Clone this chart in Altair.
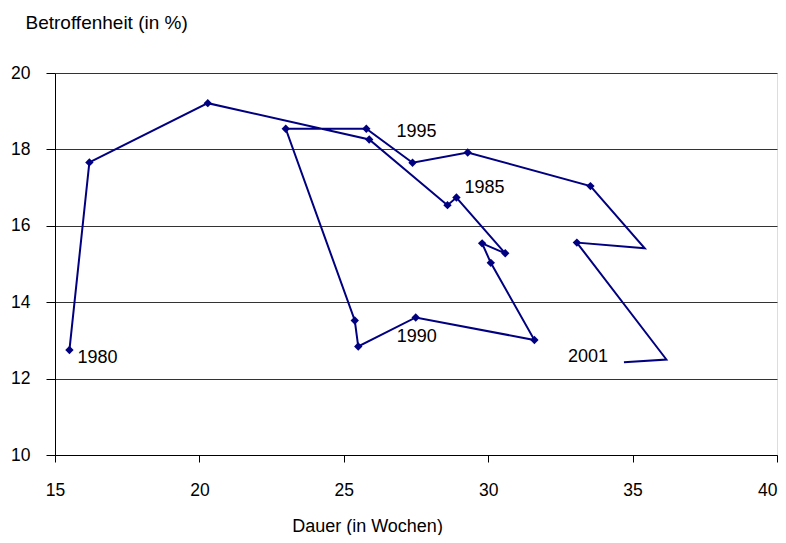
import altair as alt
import pandas as pd

jahre = list(range(1980, 2002))
dauer = [15.50, 16.19, 20.29, 25.88, 28.59, 28.90, 30.59, 29.79, 30.09, 31.60,
         27.49, 25.50, 25.38, 22.99, 25.78, 27.38, 29.29, 33.54, 35.42, 33.07,
         36.17, 34.70]
betroffenheit = [12.75, 17.66, 19.21, 18.26, 16.54, 16.74, 15.28, 15.54, 15.03, 13.01,
                 13.60, 12.84, 13.52, 18.54, 18.54, 17.65, 17.92, 17.04, 15.41, 15.56,
                 12.50, 12.43]
ohne_marker = [1998, 2000, 2001]
beschriftet = [1980, 1985, 1990, 1995, 2001]

df = pd.DataFrame({"Jahr": jahre, "Dauer": dauer, "Betroffenheit": betroffenheit})
df["Label"] = df["Jahr"].astype(str)
df["Marker"] = ~df["Jahr"].isin(ohne_marker)

FONT = "Liberation Sans"
NAVY = "#000080"

x = alt.X("Dauer:Q", scale=alt.Scale(domain=[15, 40], nice=False, zero=False),
          axis=alt.Axis(values=[15, 20, 25, 30, 35, 40], title="Dauer (in Wochen)",
                        grid=False, tickSize=7, tickColor="#000", domainColor="#000",
                        labelFlush=False,
                        labelAlign=alt.expr("datum.value == 40 ? 'right' : 'center'"),
                        labelPadding=19, labelFontSize=17.5, labelFont=FONT, labelColor="#000",
                        titleFont=FONT, titleFontSize=18, titleFontWeight="normal",
                        titleColor="#000", titleX=312, titleY=71, titleAlign="center",
                        titleBaseline="middle", titleAnchor="start"))
y = alt.Y("Betroffenheit:Q", scale=alt.Scale(domain=[10, 20], nice=False, zero=False),
          axis=alt.Axis(values=[10, 12, 14, 16, 18, 20], title="Betroffenheit (in %)",
                        grid=True, gridColor="#333", gridOpacity=1, gridWidth=1,
                        tickSize=9, tickColor="#000", domainColor="#000",
                        labelPadding=16, labelFontSize=17.5, labelFont=FONT, labelColor="#000",
                        titleFont=FONT, titleFontSize=19, titleFontWeight="normal",
                        titleColor="#000", titleAngle=0, titleX=-30, titleY=-51,
                        titleAlign="left", titleBaseline="middle", titleAnchor="start"))

base = alt.Chart(df)

line = base.mark_line(color=NAVY, strokeWidth=2).encode(x=x, y=y, order="Jahr:O")
points = base.transform_filter(alt.datum.Marker).mark_point(
    shape="diamond", filled=True, size=70, color=NAVY, opacity=1
).encode(x=x, y=y)

def label(year, dx, dy, align):
    return base.transform_filter(alt.datum.Jahr == year).mark_text(
        font=FONT, fontSize=18, color="#000", dx=dx, dy=dy, align=align, baseline="middle"
    ).encode(x=x, y=y, text="Label:N")

labels = [
    label(1980, 8, 8, "left"),
    label(1985, 8, -10, "left"),
    label(1990, 1, 20, "center"),
    label(1995, 4, -31, "center"),
    label(2001, -16, -5, "right"),
]

chart = alt.layer(line, points, *labels).properties(
    width=722, height=382,
    autosize=alt.AutoSizeParams(type="none"),
    padding={"left": 47, "top": 65, "right": 1, "bottom": 80},
).configure_view(stroke="#808080", strokeWidth=1).configure(background="white")

chart.save("out.html", embed_options={"renderer": "svg", "actions": False})
